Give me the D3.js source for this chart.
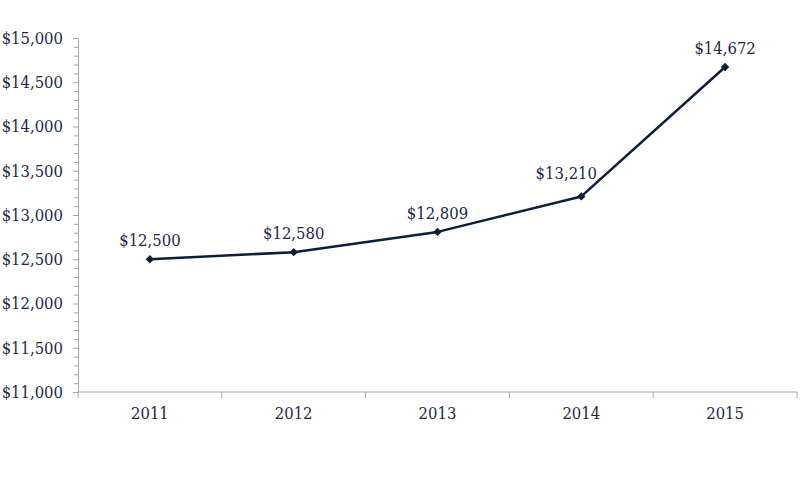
<!DOCTYPE html>
<html><head><meta charset="utf-8">
<script src="https://cdn.jsdelivr.net/npm/d3@7/dist/d3.min.js"></script>
<style>
body{margin:0;background:#fff;}
svg{display:block;}
text{font-stretch:condensed;}
</style></head>
<body><svg id="chart" width="800" height="487"></svg>
<script>
const years = ["2011","2012","2013","2014","2015"];
const values = [12500, 12580, 12809, 13210, 14672];
const yTicks = [11000,11500,12000,12500,13000,13500,14000,14500,15000];

const svg = d3.select("#chart");
const margin = {left:78, right:3, top:38, bottom:95};
const W = 800, H = 487;
const font = "'DejaVu Serif Condensed', 'DejaVu Serif', serif";
const fs = "16.5px";
const textColor = "#1d2a44";
const lineColor = "#0e1d3a";
const axisColor = "#a6a6a6";

const x = d3.scaleBand().domain(years).range([margin.left, W - margin.right]).padding(0);
const y = d3.scaleLinear().domain([11000, 15000]).range([H - margin.bottom, margin.top]);

// minor ticks
const minor = d3.range(11000, 15001, 100).filter(v => v % 500 !== 0);
svg.append("g").attr("transform", `translate(${margin.left},0)`)
  .call(d3.axisLeft(y).tickValues(minor).tickSize(4).tickFormat(""))
  .call(g => g.select(".domain").remove())
  .call(g => g.selectAll("line").attr("stroke", axisColor));

const yAxis = svg.append("g").attr("transform", `translate(${margin.left},0)`)
  .call(d3.axisLeft(y).tickValues(yTicks).tickSize(5).tickPadding(10)
    .tickFormat(d => "$" + d3.format(",")(d)));
yAxis.select(".domain").attr("stroke", axisColor);
yAxis.selectAll("line").attr("stroke", axisColor);
yAxis.selectAll("text").attr("font-family", font).attr("font-size", fs).attr("fill", textColor);

// x axis with ticks at band boundaries
const xAxisG = svg.append("g").attr("transform", `translate(0,${y(11000)})`);
xAxisG.append("line").attr("x1", margin.left).attr("x2", W - margin.right)
  .attr("stroke", axisColor);
const bounds = years.map(d => x(d)).concat([x(years[years.length-1]) + x.bandwidth()]);
xAxisG.selectAll("line.tk").data(bounds).join("line").attr("class","tk")
  .attr("x1", d => d).attr("x2", d => d).attr("y1", 0).attr("y2", 6)
  .attr("stroke", axisColor);
xAxisG.selectAll("text").data(years).join("text")
  .attr("x", d => x(d) + x.bandwidth()/2).attr("y", 27)
  .attr("text-anchor", "middle").attr("font-family", font).attr("font-size", fs)
  .attr("fill", textColor).text(d => d);

const cx = d => x(d) + x.bandwidth()/2;
const pts = years.map((d,i) => ({year:d, v:values[i]}));

svg.append("path").datum(pts)
  .attr("fill","none").attr("stroke", lineColor).attr("stroke-width", 2.5)
  .attr("stroke-linejoin","round")
  .attr("d", d3.line().x(d => cx(d.year)).y(d => y(d.v)));

svg.selectAll("path.mk").data(pts).join("path").attr("class","mk")
  .attr("transform", d => `translate(${cx(d.year)},${y(d.v)})`)
  .attr("d", d3.symbol(d3.symbolDiamond2, 45))
  .attr("fill", lineColor);

svg.selectAll("text.lbl").data(pts).join("text").attr("class","lbl")
  .attr("x", (d,i) => cx(d.year) + (i === 3 ? -15 : 0))
  .attr("y", (d,i) => y(d.v) - (i === 3 ? 17 : 13))
  .attr("text-anchor","middle").attr("font-family", font).attr("font-size", fs)
  .attr("fill", textColor).text(d => "$" + d3.format(",")(d.v));
</script></body></html>
